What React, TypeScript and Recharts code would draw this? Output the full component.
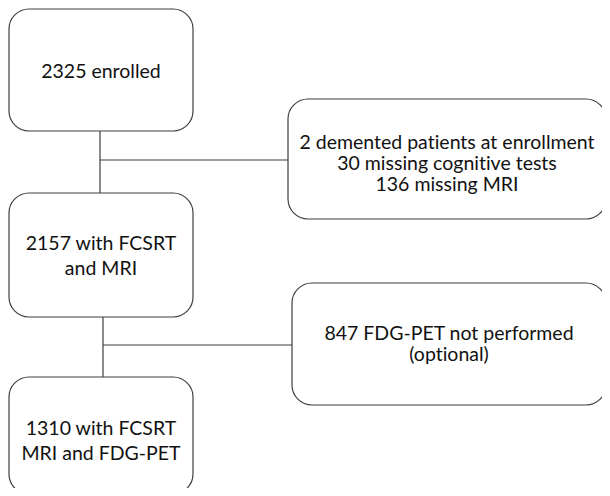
import { ScatterChart, XAxis, YAxis, ReferenceArea, ReferenceLine, Scatter } from "recharts"

// flowchart content
const boxLabels = [
  ["2325 enrolled"],
  ["2 demented patients at enrollment", "30 missing cognitive tests", "136 missing MRI"],
  ["2157 with FCSRT", "and MRI"],
  ["847 FDG-PET not performed", "(optional)"],
  ["1310 with FCSRT", "MRI and FDG-PET"],
]

// box placement in page units
const boxX1 = [9, 288, 9, 292, 9]
const boxX2 = [193, 606, 193, 606, 193]
const boxY1 = [9, 99, 193, 283, 377]
const boxY2 = [131, 219, 317, 405, 494]
const lineGap = [0, 21, 25, 21, 25]
const textShift = [0, 3, 0, -1, 4]

// connectors: [x1, y1, x2, y2]
const connectors = [
  [100, 131, 100, 193],
  [100, 160, 288, 160],
  [103, 317, 103, 377],
  [103, 345, 292, 345],
]

const W = 610
const H = 496
const STROKE = "#3f3f3f"
const FONT = "Lato, 'Open Sans', sans-serif"

const makeBox = (lines: string[], gap: number, shift: number) => (props: any) => {
  const { x, y, width, height } = props
  const cx = x + width / 2
  const cy = y + height / 2 + shift
  const start = cy - ((lines.length - 1) * gap) / 2
  return (
    <g>
      <rect x={x} y={y} width={width} height={height} rx={20} ry={20} fill="#fff" stroke={STROKE} strokeWidth={1.2} />
      {lines.map((t, i) => (
        <text
          key={i}
          x={cx}
          y={start + i * gap}
          textAnchor="middle"
          dominantBaseline="central"
          fontFamily={FONT}
          fontSize={19.5}
          fill="#111"
          style={{ fontVariantLigatures: "none" }}
        >
          {t}
        </text>
      ))}
    </g>
  )
}

export default function App() {
  return (
    <div style={{ width: W, height: H, margin: -8, background: "#fff" }}>
      <ScatterChart width={W} height={H} margin={{ top: 0, right: 0, bottom: 0, left: 0 }}>
        <XAxis type="number" dataKey="x" domain={[0, W]} hide allowDataOverflow />
        <YAxis type="number" dataKey="y" domain={[0, H]} reversed hide allowDataOverflow width={0} />
        <Scatter data={[]} isAnimationActive={false} />
        {connectors.map((c, i) => (
          <ReferenceLine
            key={`l-${i}`}
            segment={[{ x: c[0], y: c[1] }, { x: c[2], y: c[3] }]}
            stroke={STROKE}
            strokeWidth={1.2}
            ifOverflow="visible"
          />
        ))}
        {boxLabels.map((lines, i) => (
          <ReferenceArea
            key={`b-${i}`}
            x1={boxX1[i]}
            x2={boxX2[i]}
            y1={boxY1[i]}
            y2={boxY2[i]}
            ifOverflow="visible"
            shape={makeBox(lines, lineGap[i], textShift[i])}
          />
        ))}
      </ScatterChart>
    </div>
  )
}
